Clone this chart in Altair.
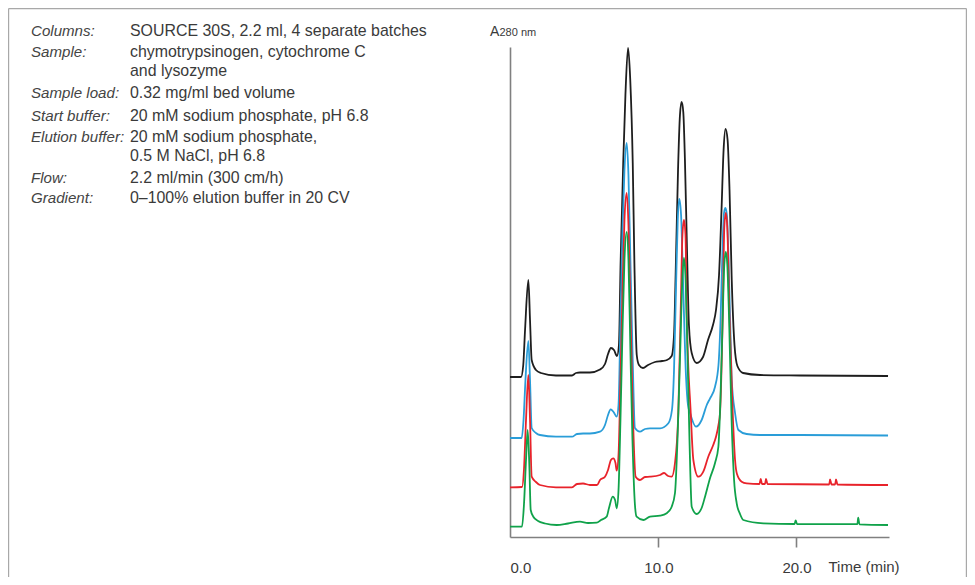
import altair as alt
import pandas as pd

FONT = "Liberation Sans"
TEXT_COLOR = "#3a3a3a"
AXIS_COLOR = "#808080"

# ---------------- data ----------------
# time in minutes, A280 signal in arbitrary units (traces offset vertically)
black_time = [-0.75, 0.05, 0.21, 0.34, 0.58, 0.70, 0.82, 1.13, 1.49, 2.58, 3.74, 4.03, 4.32, 5.04,
              5.77, 6.13, 6.35, 6.56, 6.78, 7.00, 7.14, 7.26, 7.45, 7.61, 7.80, 7.96, 8.14, 8.26,
              8.43, 8.59, 8.88, 9.25, 9.75, 10.26, 10.62, 10.96, 11.13, 11.27, 11.42, 11.56, 11.68,
              11.80, 11.92, 12.07, 12.21, 12.41, 12.77, 13.23, 13.59, 13.95, 14.17, 14.39, 14.57,
              14.72, 14.86, 15.01, 15.15, 15.31, 15.51, 15.72, 16.13, 17.36, 20.26, 26.63]
black_a280 = [160, 160, 172, 207, 257, 217, 177, 167, 164, 161.5, 161.5, 164, 164.5, 164.5,
              167.5, 173, 183, 189, 187, 181, 192, 274, 374, 442, 489, 457, 374, 274,
              182, 172, 169, 172, 175, 176, 177, 181, 202, 277, 367, 422, 435,
              425, 377, 287, 212, 184, 174, 180, 197, 212, 227, 262, 327,
              387, 408, 397, 347, 257, 192, 171, 164, 162, 161.5, 161]

blue_time = [-0.75, 0.10, 0.23, 0.37, 0.58, 0.70, 0.82, 1.13, 1.42, 2.58, 3.74, 4.10, 4.54, 5.04,
             5.77, 6.13, 6.35, 6.54, 6.75, 6.98, 7.11, 7.25, 7.40, 7.54, 7.70, 7.83, 7.97, 8.12,
             8.30, 8.66, 9.03, 9.39, 10.12, 10.72, 10.98, 11.13, 11.27, 11.40, 11.51, 11.64, 11.78,
             12.00, 12.14, 12.29, 12.72, 13.13, 13.50, 13.74, 14.10, 14.35, 14.50, 14.65, 14.75,
             14.85, 14.96, 15.08, 15.23, 15.31, 15.55, 15.79, 16.39, 17.36, 20.26, 26.63]
blue_a280 = [99, 99, 117, 157, 196, 157, 109, 104, 102, 100.3, 100.3, 103, 103.5, 103.5,
             105.3, 112, 122, 127.7, 125, 120.3, 132, 217, 307, 367, 394, 362, 277, 187,
             109, 105.3, 108, 108.7, 108.7, 113.7, 127, 167, 247, 317, 338, 322, 257,
             160, 132, 124, 110.3, 117, 132, 138.7, 150.3, 172, 217, 292, 324,
             329, 322, 277, 197, 157, 124, 107, 103, 102, 102, 101.5]

red_time = [-0.75, 0.12, 0.26, 0.41, 0.58, 0.70, 0.82, 1.13, 1.42, 2.58, 3.74, 4.10, 4.54, 5.04,
            5.55, 5.77, 6.13, 6.35, 6.56, 6.73, 6.89, 6.98, 7.11, 7.25, 7.40, 7.54, 7.70, 7.83,
            7.97, 8.12, 8.35, 8.66, 9.03, 9.39, 10.12, 10.41, 10.70, 10.96, 11.20, 11.44, 11.61,
            11.74, 11.85, 11.96, 12.05, 12.34, 12.53, 12.89, 13.25, 13.61, 13.97, 14.17, 14.35,
            14.46, 14.66, 14.77, 14.88, 14.99, 15.14, 15.38, 15.55, 15.69, 16.03, 16.39, 17.32,
            17.41, 17.50, 17.72, 17.79, 17.90, 22.37, 22.43, 22.54, 22.80, 22.86, 22.97, 26.63]
red_a280 = [49.7, 50, 67, 117, 162, 117, 60.3, 55, 52, 49.7, 49.7, 53, 53.5, 52,
            52, 57, 60.3, 67, 77, 78.7, 74, 66.3, 82, 157, 247, 317, 344, 312,
            227, 137, 60.3, 57, 60, 60.3, 62, 64, 61, 60.3, 74, 124, 224,
            302, 317, 302, 224, 124, 77, 60.3, 65.3, 80.3, 92, 100.3, 112,
            124, 224, 309, 324, 309, 224, 124, 77, 63, 55.3, 53.7, 53,
            58, 53, 53, 58, 53, 52.5, 57.5, 52.5, 52.5, 57.5, 52.5, 52]

green_time = [-0.75, 0.12, 0.26, 0.41, 0.53, 0.65, 0.75, 0.94, 1.28, 1.79, 2.63, 3.45, 4.32, 4.90,
              5.53, 5.84, 6.25, 6.42, 6.69, 6.86, 6.98, 7.11, 7.25, 7.40, 7.54, 7.70, 7.83, 7.97,
              8.12, 8.30, 8.42, 8.91, 9.39, 10.12, 10.60, 10.96, 11.20, 11.38, 11.58, 11.73, 11.85,
              11.97, 12.10, 12.25, 12.41, 12.77, 13.13, 13.37, 13.74, 14.10, 14.34, 14.49, 14.65,
              14.77, 14.88, 14.99, 15.12, 15.30, 15.48, 15.67, 15.91, 16.15, 17.60, 19.86, 19.94,
              20.04, 24.41, 24.47, 24.56, 26.63]
green_a280 = [10.3, 10.5, 32, 77, 107, 72, 27, 20.3, 16, 13.5, 12, 13.5, 15.3, 14,
              14.3, 17, 20.3, 29, 40.3, 37, 28.7, 47, 117, 207, 277, 305, 277, 187,
              97, 32, 20.3, 17, 20.3, 21.3, 23.7, 30.3, 44, 97, 187, 257, 279,
              257, 187, 97, 30.3, 23, 29, 40, 59, 74, 90, 137, 217,
              272, 285, 272, 217, 117, 57, 33.7, 23, 17, 13.7, 13, 16.5,
              13, 12.8, 19.3, 12.7, 12]

x_tick_values = [0, 10, 20]

info_labels = ["Columns:", "Sample:", "", "Sample load:", "Start buffer:",
               "Elution buffer:", "", "Flow:", "Gradient:"]
info_values = ["SOURCE 30S, 2.2 ml, 4 separate batches",
               "chymotrypsinogen, cytochrome C",
               "and lysozyme",
               "0.32 mg/ml bed volume",
               "20 mM sodium phosphate, pH 6.8",
               "20 mM sodium phosphate,",
               "0.5 M NaCl, pH 6.8",
               "2.2 ml/min (300 cm/h)",
               "0\u2013100% elution buffer in 20 CV"]

# ---------------- layout ----------------
PLOT_W, PLOT_H = 379, 490
PAD_L, PAD_T = 502, 39
TOTAL_W, TOTAL_H = 959, 569
LINE_BASELINES = [-11.3, 9.7, 29, 51.3, 73.7, 94.7, 114, 135.7, 156.3]
LABEL_X, VALUE_X = -479, -380

xscale = alt.Scale(domain=[-0.75, 26.7], nice=False, zero=False)
yscale = alt.Scale(domain=[0, 490], nice=False, zero=False)

xaxis = alt.Axis(
    values=x_tick_values, format=".1f", grid=False,
    domainColor=AXIS_COLOR, domainWidth=1.6,
    tickColor={"condition": {"test": "datum.value === 0", "value": "transparent"},
               "value": AXIS_COLOR},
    tickWidth=1.6, tickSize=10,
    labelFont=FONT, labelFontSize=15, labelColor=TEXT_COLOR, labelPadding=13,
    labelFlush=False,
    title="Time (min)", titleFont=FONT, titleFontSize=15, titleFontWeight="normal",
    titleColor=TEXT_COLOR, titleX=318, titleY=29.5, titleAlign="left",
    titleBaseline="middle", titleAnchor="start",
)
yaxis = alt.Axis(
    ticks=False, labels=False, grid=False, title=None,
    domainColor=AXIS_COLOR, domainWidth=1.6,
)


def trace(t, v, color):
    df = pd.DataFrame({"time": t, "a280": v})
    return alt.Chart(df).mark_line(
        color=color, strokeWidth=1.8, interpolate="monotone"
    ).encode(
        x=alt.X("time:Q", scale=xscale, axis=xaxis),
        y=alt.Y("a280:Q", scale=yscale, axis=yaxis),
    )


layers = [
    trace(black_time, black_a280, "#1e1e1e"),
    trace(blue_time, blue_a280, "#2a9dd8"),
    trace(red_time, red_a280, "#e8232b"),
    trace(green_time, green_a280, "#10a24a"),
]


def text_layer(txt, x, y, size=15, italic=False, baseline="alphabetic", color=TEXT_COLOR):
    return alt.Chart(pd.DataFrame({"t": [txt]})).mark_text(
        font=FONT, fontSize=size, fontStyle="italic" if italic else "normal",
        align="left", baseline=baseline, color=color,
    ).encode(x=alt.value(x), y=alt.value(y), text="t:N")


for lab, val, yb in zip(info_labels, info_values, LINE_BASELINES):
    if lab:
        layers.append(text_layer(lab, LABEL_X, yb, size=15.1, italic=True, color="#444444"))
    layers.append(text_layer(val, VALUE_X, yb, size=15.9))

# y-axis title "A280 nm"
layers.append(text_layer("A", -20, -10.8, size=14))
layers.append(text_layer("280 nm", -10.5, -10.8, size=11))

# frame around the figure
frame = pd.DataFrame({"k": [0]})
frame_color = "#a8a8a8"
layers.append(alt.Chart(frame).mark_rule(color=frame_color, strokeWidth=1.2).encode(
    x=alt.value(-PAD_L + 0.6), x2=alt.value(TOTAL_W - PAD_L - 0.6),
    y=alt.value(-PAD_T + 0.6)))
layers.append(alt.Chart(frame).mark_rule(color=frame_color, strokeWidth=1.2).encode(
    x=alt.value(-PAD_L + 0.6), y=alt.value(-PAD_T + 0.6), y2=alt.value(TOTAL_H - PAD_T)))
layers.append(alt.Chart(frame).mark_rule(color=frame_color, strokeWidth=1.2).encode(
    x=alt.value(TOTAL_W - PAD_L - 0.6), y=alt.value(-PAD_T + 0.6),
    y2=alt.value(TOTAL_H - PAD_T)))

chart = alt.layer(*layers).properties(
    width=PLOT_W, height=PLOT_H,
    autosize=alt.AutoSizeParams(type="none"),
    padding={"left": PAD_L, "top": PAD_T,
             "right": TOTAL_W - PAD_L - PLOT_W, "bottom": TOTAL_H - PAD_T - PLOT_H},
    background="white",
).configure_view(stroke=None)

chart.save("out.html", embed_options={"renderer": "svg", "actions": False})
